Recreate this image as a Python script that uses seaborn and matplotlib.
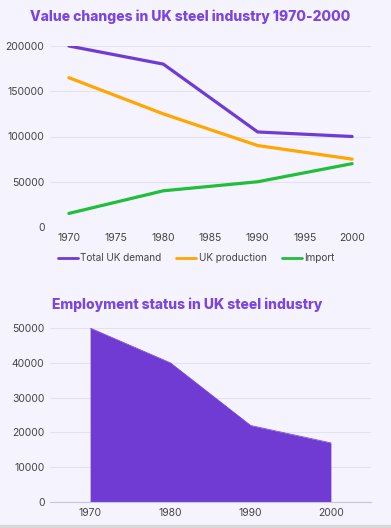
import pandas as pd
import matplotlib.pyplot as plt
import seaborn as sns
from matplotlib.lines import Line2D

# data
years = [1970, 1980, 1990, 2000]
total_demand = [200000, 180000, 105000, 100000]
uk_production = [165000, 125000, 90000, 75000]
imports = [15000, 40000, 50000, 70000]
employment = [50000, 40000, 22000, 17000]

bg = '#f5f3fd'
purple = '#6f3bd3'
orange = '#ffa600'
green = '#1fbf3a'
title_col = '#7a45e0'
grid_col = '#e4e2ec'
tick_col = '#444444'

sns.set_theme(style='white')
plt.rcParams['font.family'] = ['Inter', 'DejaVu Sans']

df = pd.DataFrame({
    'year': years * 3,
    'value': total_demand + uk_production + imports,
    'series': ['Total UK demand'] * 4 + ['UK production'] * 4 + ['Import'] * 4,
})

fig = plt.figure(figsize=(3.91, 5.28), dpi=100, facecolor=bg)
ax1 = fig.add_axes([50 / 391, 1 - 227 / 528, 321 / 391, 181 / 528])
ax2 = fig.add_axes([50 / 391, 1 - 502 / 528, 321 / 391, 174 / 528])

# top chart: lines
sns.lineplot(data=df, x='year', y='value', hue='series', ax=ax1,
             palette=[purple, orange, green], linewidth=2.3, legend=False)
ax1.set_xlim(1968, 2002)
ax1.set_ylim(0, 200000)
ax1.set_xticks(range(1970, 2001, 5))
ax1.set_yticks(range(0, 200001, 50000))

# legend under the top axis
handles = [Line2D([], [], color=c, lw=2.0) for c in [purple, orange, green]]
fig.legend(handles, ['Total UK demand', 'UK production', 'Import'],
           loc='center', bbox_to_anchor=(196 / 391, 1 - 258 / 528), ncol=3,
           frameon=False, fontsize=7.2, handlelength=2.0, handletextpad=0.25,
           columnspacing=1.5, labelcolor=tick_col)

fig.text(190 / 391, 1 - 17 / 528, 'Value changes in UK steel industry 1970-2000',
         ha='center', va='center', fontsize=10, fontweight='heavy', color=title_col)

# bottom chart: area
ax2.fill_between(years, employment, color=purple, linewidth=0)
sns.lineplot(x=years, y=employment, ax=ax2, color=purple, linewidth=0.5)
ax2.set_xlim(1965, 2005)
ax2.set_ylim(0, 50000)
ax2.set_xticks(years)
ax2.set_yticks(range(0, 50001, 10000))

fig.text(52 / 391, 1 - 305 / 528, 'Employment status in UK steel industry',
         ha='left', va='center', fontsize=10, fontweight='heavy', color=title_col)

for ax in (ax1, ax2):
    ax.set_facecolor(bg)
    ax.set_xlabel('')
    ax.set_ylabel('')
    for s in ax.spines.values():
        s.set_visible(False)
    ax.yaxis.grid(True, color=grid_col, linewidth=0.8)
    ax.set_axisbelow(True)
    ax.tick_params(axis='both', length=0, labelsize=7.5, colors=tick_col, pad=4)

ax2.spines['bottom'].set_visible(True)
ax2.spines['bottom'].set_color('#c9c7d2')
ax2.spines['bottom'].set_linewidth(0.8)

# grey strip at the foot of the card
fig.patches.append(plt.Rectangle((0, 0), 1, 3 / 528, transform=fig.transFigure,
                                 color='#d8d8d8', zorder=0))

plt.savefig('out.png', dpi=100, facecolor=bg)
